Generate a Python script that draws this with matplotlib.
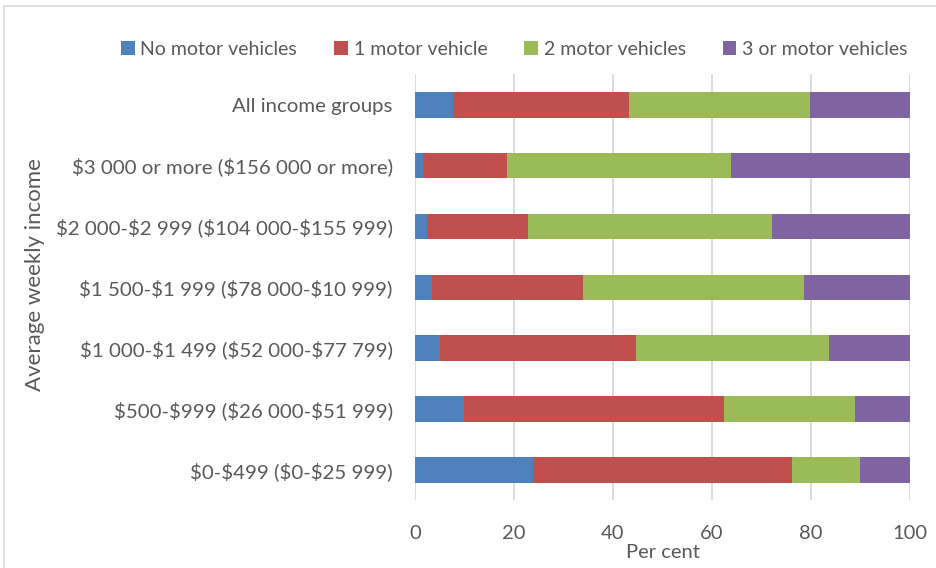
import numpy as np
import matplotlib.pyplot as plt
from matplotlib.patches import Rectangle

# Données (pour cent) - de bas en haut
categories = ["$0-$499 ($0-$25 999)",
              "$500-$999 ($26 000-$51 999)",
              "$1 000-$1 499 ($52 000-$77 799)",
              "$1 500-$1 999 ($78 000-$10 999)",
              "$2 000-$2 999 ($104 000-$155 999)",
              "$3 000 or more ($156 000 or more)",
              "All income groups"]
no_vehicle = [23.8, 9.9, 5.1, 3.4, 2.4, 1.5, 7.7]
one_vehicle = [52.3, 52.5, 39.5, 30.6, 20.4, 17.0, 35.5]
two_vehicles = [13.9, 26.5, 39.1, 44.7, 49.4, 45.4, 36.7]
three_vehicles = [10.0, 11.1, 16.3, 21.3, 27.8, 36.1, 20.1]

series = ["No motor vehicles", "1 motor vehicle", "2 motor vehicles", "3 or motor vehicles"]
colors = ["#4F81BD", "#C0504D", "#9BBB59", "#8064A2"]
text_col = "#595959"

plt.rcParams['font.family'] = ['Lato', 'DejaVu Sans']
plt.rcParams['text.parse_math'] = False  # les "$" sont du texte

fig = plt.figure(figsize=(9.37, 5.68), dpi=100)
ax = fig.add_axes([0.443, 0.119, 0.528, 0.750])

y = np.arange(len(categories))
left = np.zeros(len(categories))
for name, vals, c in zip(series, [no_vehicle, one_vehicle, two_vehicles, three_vehicles], colors):
    ax.barh(y, vals, left=left, height=0.42, color=c, label=name, zorder=3)
    left += np.array(vals)

ax.set_xlim(0, 100)
ax.set_ylim(-0.5, len(categories) - 0.5)
ax.set_xticks(np.arange(0, 101, 20))
ax.set_yticks(y)
ax.set_yticklabels(categories)
ax.grid(axis='x', color="#D9D9D9", linewidth=1.3, zorder=0)
for s in ax.spines.values():
    s.set_visible(False)
ax.tick_params(axis='y', length=0, pad=16, labelsize=14.7, labelcolor=text_col)
ax.tick_params(axis='x', length=0, pad=18, labelsize=14.5, labelcolor=text_col)

ax.set_xlabel("Per cent", fontsize=14.5, color=text_col, labelpad=1)
fig.text(0.037, 0.516, "Average weekly income", rotation=90, ha='center', va='center',
         fontsize=16, color=text_col)

ax.legend(loc='center', bbox_to_anchor=(0.549, 0.913), bbox_transform=fig.transFigure,
          ncol=4, frameon=False, fontsize=14, handlelength=0.7, handleheight=0.7,
          handletextpad=0.3, columnspacing=1.9, labelcolor=text_col)

# bordure de la zone graphique
fig.patches.append(Rectangle((0.004, -0.02), 1.0, 1.01, transform=fig.transFigure,
                             fill=False, edgecolor="#D9D9D9", linewidth=1.2))

plt.savefig("out.png", dpi=100)
